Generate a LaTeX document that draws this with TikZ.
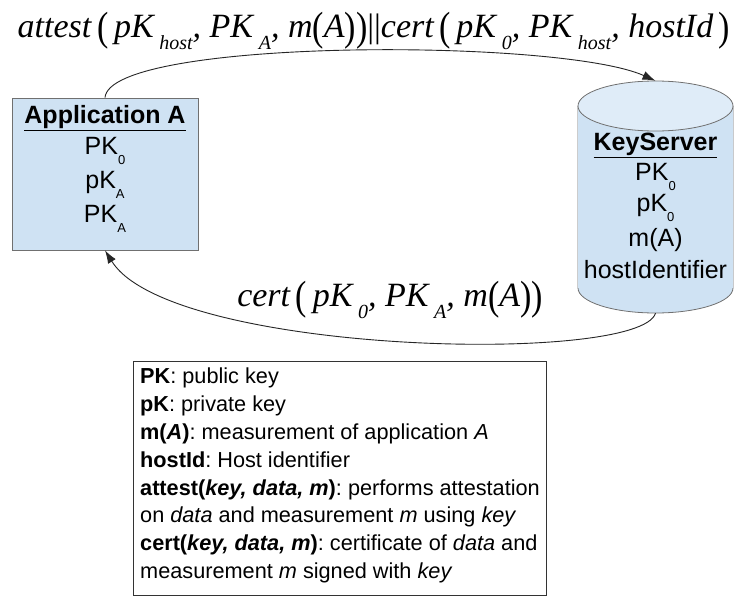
\documentclass[tikz,border=0pt]{standalone}
\usepackage{fontspec}
\setmainfont{Liberation Sans}
\newfontfamily\serifit{Liberation Serif}
\usetikzlibrary{arrows.meta}
\definecolor{boxblue}{HTML}{CFE2F3}
\definecolor{topblue}{HTML}{DFECF8}
\definecolor{edgegray}{HTML}{707070}
\frenchspacing
\newcommand{\ksub}[1]{\raisebox{-0.7ex}{\fontsize{13}{13}\selectfont #1}}
\newcommand{\msub}[1]{\,\raisebox{-0.35em}{\fontsize{20}{20}\selectfont\itshape #1}}
\newcommand{\lpar}{\upshape\raisebox{-0.08em}{\scalebox{1}[1.2]{(}}\itshape}
\newcommand{\rpar}{\upshape\raisebox{-0.08em}{\scalebox{1}[1.2]{)}}\itshape}
\begin{document}
\begin{tikzpicture}[x=1pt,y=-1pt,
  arr/.style={draw=black!85, line width=0.9pt, -{Latex[length=13pt,width=9pt]}},
  boxtext/.style={font=\fontsize{25}{25}\selectfont, inner sep=0},
  mathlbl/.style={font=\serifit\fontsize{34}{34}\selectfont\itshape, inner sep=0},
  legendtext/.style={font=\fontsize{21.7}{27.8}\selectfont, align=left, inner sep=0, anchor=north west}]
\fill[white] (0,0) rectangle (748,597);
\useasboundingbox (0,0) rectangle (748,597);

% Application A
\node[draw=edgegray, fill=boxblue, line width=0.8pt, minimum width=186pt, minimum height=152pt, inner sep=0] (app) at (105,174) {};
\node[boxtext] (apptitle) at (105,118) {\textbf{\underline{Application A}}};
\node[boxtext] (app1) at (105,151) {PK\ksub{0}};
\node[boxtext] (app2) at (105,185) {pK\ksub{A}};
\node[boxtext] (app3) at (105,219) {PK\ksub{A}};

% KeyServer cylinder
\path[fill=boxblue, draw=edgegray, line width=0.8pt] (578,106) -- (578,288) arc[start angle=180, end angle=360, x radius=77.5pt, y radius=25pt] -- (733,106);
\fill[boxblue] (578,106) rectangle (733,288);
\filldraw[fill=topblue, draw=edgegray, line width=0.8pt] (655.5,106) ellipse[x radius=77.5pt, y radius=25pt];
\node[inner sep=0, minimum width=155pt, minimum height=232pt] (ks) at (655.5,197) {};
\node[boxtext] (kstitle) at (655.5,145) {\textbf{\underline{KeyServer}}};
\node[boxtext] (ks1) at (655.5,177) {PK\ksub{0}};
\node[boxtext] (ks2) at (655.5,208) {pK\ksub{0}};
\node[boxtext] (ks3) at (655.5,240) {m(A)};
\node[boxtext] (ks4) at (655.5,270) {hostIdentifier};

% connectors
\draw[arr] (app.north) .. controls (110,38) and (560,38) .. (ks.north);
\draw[arr] (ks.south) .. controls (640,365) and (170,355) .. (app.south);

% labels
\node[mathlbl] (toplbl) at (374,31) {attest\,\lpar\,pK\msub{host}, PK\msub{A}, m\lpar A\rpar\rpar\upshape||\itshape cert\,\lpar\,pK\msub{0}, PK\msub{host}, hostId\,\rpar};
\node[mathlbl] (botlbl) at (390,300) {cert\,\lpar\,pK\msub{0}, PK\msub{A}, m\lpar A\rpar\rpar};

% legend
\node[draw=black!80, line width=0.8pt, minimum width=413pt, minimum height=234pt, inner sep=0] (legend) at (339.5,478) {};
\node[legendtext] (legendtxt) at (140,368) {%
\textbf{PK}: public key\\
\textbf{pK}: private key\\
\textbf{m(\textit{A})}: measurement of application \textit{A}\\
\textbf{hostId}: Host identifier\\
\textbf{attest(\textit{key, data, m})}: performs attestation\\
on \textit{data} and measurement \textit{m} using \textit{key}\\
\textbf{cert(\textit{key, data, m})}: certificate of \textit{data} and\\
measurement \textit{m} signed with \textit{key}};
\end{tikzpicture}
\end{document}
